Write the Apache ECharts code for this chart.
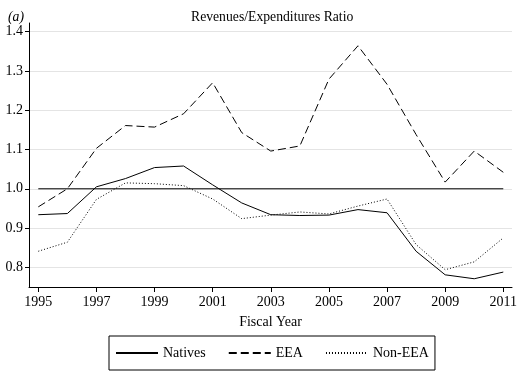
<!DOCTYPE html>
<html>
<head>
<meta charset="utf-8">
<script src="https://cdn.jsdelivr.net/npm/echarts@6/dist/echarts.min.js"></script>
<style>
  html, body { margin: 0; padding: 0; background: #fff; }
  #root { width: 529px; height: 375px; }
</style>
</head>
<body>
<div id="root"></div>
<script>
// fiscal years and ratios
var years = [1995, 1996, 1997, 1998, 1999, 2000, 2001, 2002, 2003, 2004, 2005, 2006, 2007, 2008, 2009, 2010, 2011];
var natives = [0.934, 0.937, 1.005, 1.026, 1.054, 1.058, 1.010, 0.964, 0.934, 0.932, 0.933, 0.947, 0.939, 0.841, 0.781, 0.771, 0.788];
var eea = [0.954, 1.000, 1.103, 1.161, 1.157, 1.191, 1.270, 1.143, 1.096, 1.109, 1.279, 1.364, 1.266, 1.138, 1.017, 1.096, 1.042];
var nonEea = [0.841, 0.864, 0.973, 1.015, 1.013, 1.008, 0.974, 0.924, 0.933, 0.941, 0.936, 0.956, 0.974, 0.858, 0.794, 0.814, 0.875];
var refLine = [[1995, 1.0], [2011, 1.0]];
var xTicks = [1995, 1997, 1999, 2001, 2003, 2005, 2007, 2009, 2011];
var yTicks = [0.8, 0.9, 1.0, 1.1, 1.2, 1.3, 1.4];

var font = 'Liberation Serif, Times New Roman, serif';

var dom = document.getElementById('root');
var myChart = echarts.init(dom, null, { renderer: 'canvas' });

function pairs(vals) {
  return years.map(function (y, i) { return [y, vals[i]]; });
}

function lineSeries(name, vals, type) {
  return {
    name: name,
    type: 'line',
    data: pairs(vals),
    symbol: 'none',
    showSymbol: false,
    silent: true,
    lineStyle: { color: '#000', width: 1, type: type },
    itemStyle: { color: '#000' }
  };
}

var option = {
  animation: false,
  title: [
    {
      text: 'Revenues/Expenditures Ratio',
      left: 186, top: 5,
      textStyle: { fontFamily: font, fontSize: 13.7, fontWeight: 'normal', color: '#000' }
    },
    {
      text: '(a)',
      left: 3, top: 5,
      textStyle: { fontFamily: font, fontSize: 13.7, fontStyle: 'italic', fontWeight: 'normal', color: '#000' }
    }
  ],
  legend: {
    data: ['Natives', 'EEA', 'Non-EEA'],
    left: 109, top: 336,
    orient: 'horizontal',
    itemWidth: 42, itemHeight: 12, itemGap: 22,
    padding: [10, 6, 10, 6],
    borderColor: '#000', borderWidth: 1,
    itemStyle: { opacity: 0 },
    textStyle: { fontFamily: font, fontSize: 14, color: '#000' }
  },
  grid: { left: 29, right: 17, top: 23, bottom: 88, containLabel: false },
  xAxis: {
    type: 'value',
    min: 1994.68, max: 2011.3,
    name: 'Fiscal Year',
    nameLocation: 'middle',
    nameGap: 28,
    nameTextStyle: { fontFamily: font, fontSize: 14, color: '#000' },
    axisLine: { lineStyle: { color: '#000', width: 1 } },
    axisTick: { show: true, length: 5, lineStyle: { color: '#000' }, customValues: xTicks },
    axisLabel: {
      customValues: xTicks, margin: 8,
      fontFamily: font, fontSize: 14, color: '#000',
      formatter: function (v) { return String(Math.round(v)); }
    },
    splitLine: { show: false }
  },
  yAxis: {
    type: 'value',
    min: 0.75, max: 1.422,
    axisLine: { show: true, lineStyle: { color: '#000', width: 1 } },
    axisTick: { show: true, length: 4, lineStyle: { color: '#000' }, customValues: yTicks },
    axisLabel: {
      customValues: yTicks, margin: 6,
      fontFamily: font, fontSize: 14, color: '#000',
      formatter: function (v) { return v.toFixed(1); }
    },
    splitLine: { show: true, lineStyle: { color: '#e4e4e4', width: 1 } }
  },
  series: [
    lineSeries('Natives', natives, 'solid'),
    lineSeries('EEA', eea, [8, 4]),
    lineSeries('Non-EEA', nonEea, [1, 2]),
    {
      name: 'ref',
      type: 'line',
      data: refLine,
      symbol: 'none',
      silent: true,
      lineStyle: { color: '#000', width: 1 },
      z: 1
    }
  ]
};

myChart.setOption(option);
</script>
</body>
</html>
